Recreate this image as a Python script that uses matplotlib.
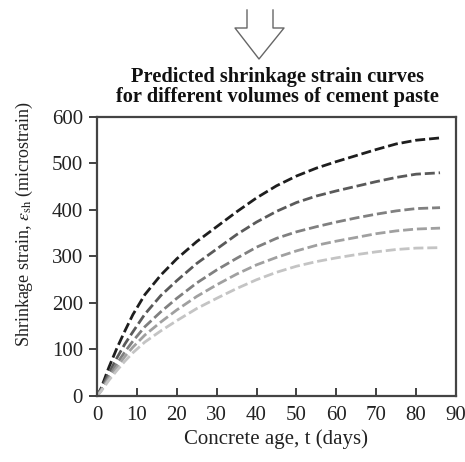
import numpy as np
import matplotlib.pyplot as plt
from matplotlib.lines import Line2D

plt.rcParams['font.family'] = 'Liberation Serif'
plt.rcParams['mathtext.fontset'] = 'stix'

# concrete age (days) and predicted shrinkage strain for each paste volume
days = [0, 1, 3, 5, 7, 9, 12, 16, 20, 25, 30, 35, 40, 45, 50, 55, 60, 65, 70, 75, 80, 86]
strain_1 = [0, 16, 62, 103, 140, 175, 218, 260, 295, 332, 364, 396, 426, 452, 473, 490, 504, 517, 530, 542, 550, 555]
strain_2 = [0, 14, 50, 82, 112, 138, 176, 216, 248, 285, 316, 347, 374, 397, 416, 430, 441, 451, 461, 470, 477, 480]
strain_3 = [0, 12, 42, 70, 95, 118, 149, 181, 210, 243, 271, 296, 320, 339, 353, 364, 374, 383, 391, 398, 403, 405]
strain_4 = [0, 11, 38, 62, 85, 105, 131, 159, 185, 214, 239, 262, 282, 298, 312, 324, 333, 341, 349, 355, 359, 361]
strain_5 = [0, 10, 34, 55, 75, 93, 116, 140, 162, 188, 210, 231, 250, 266, 279, 289, 297, 304, 310, 315, 318, 319]
curves = [strain_1, strain_2, strain_3, strain_4, strain_5]
shades = ['#1e1e1e', '#5a5a5a', '#808080', '#a0a0a0', '#c4c4c4']

fig = plt.figure(figsize=(4.65, 4.62), dpi=100)
ax = fig.add_axes([0.2086, 0.1429, 0.772, 0.6039])

for y, c in zip(curves, shades):
  ax.plot(days, y, color=c, lw=2.0, dashes=(3.6, 1.4))

ax.set_xlim(0, 90)
ax.set_ylim(0, 600)
ax.set_xticks(range(0, 91, 10))
ax.set_yticks(range(0, 601, 100))
ax.tick_params(axis='x', direction='in', length=6, width=1.3, colors='#333333', labelsize=15, pad=7)
ax.tick_params(axis='y', direction='out', length=6, width=1.3, colors='#333333', labelsize=15, pad=4)
for t in ax.get_xticklabels() + ax.get_yticklabels():
  t.set_color('#222222')
for s in ax.spines.values():
  s.set_linewidth(1.6)
  s.set_color('#444444')

ax.set_xlabel('Concrete age, t (days)', fontsize=15, color='#222222', labelpad=3)
ax.set_ylabel(r'Shrinkage strain, $\varepsilon_{\rm sh}$ (microstrain)', fontsize=13, color='#222222')
ax.yaxis.set_label_coords(-0.172, 0.618)

fig.text(0.597, 0.811, 'Predicted shrinkage strain curves\nfor different volumes of cement paste',
         ha='center', va='center', fontsize=14.7, fontweight='bold', linespacing=1.0, color='#111111')

# hollow arrow pointing down to the chart
W, H = 465.0, 462.0
px = [247, 247, 235, 259, 284, 273, 273]
py = [10, 28, 28, 59, 28, 28, 10]
fig.add_artist(Line2D([p / W for p in px], [1 - p / H for p in py],
                      transform=fig.transFigure, color='#666666', lw=1.0))

fig.savefig('out.png', dpi=100)
